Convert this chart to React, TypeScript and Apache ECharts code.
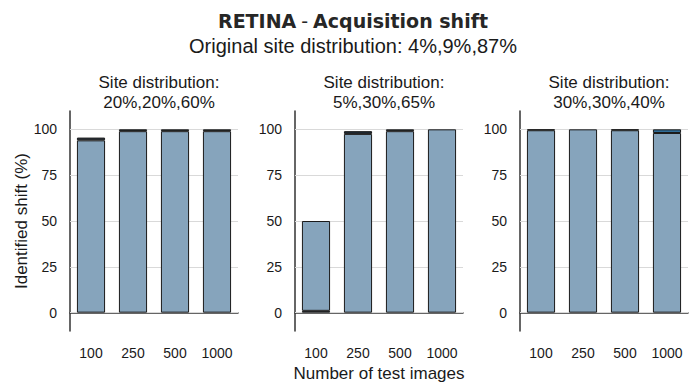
import React, { useEffect, useRef } from "react";
import * as echarts from "echarts";

const mainTitle = "RETINA - Acquisition shift";
const subTitle = "Original site distribution: 4%,9%,87%";
const categories = ["100", "250", "500", "1000"];
const panelTitles = [
  "Site distribution:\n20%,20%,60%",
  "Site distribution:\n5%,30%,65%",
  "Site distribution:\n30%,30%,40%",
];
const yTicks = [0, 25, 50, 75, 100];
// stacked segments per panel (bottom to top)
const lowDark = [
  [0, 0, 0, 0],
  [1, 0, 0, 0],
  [0, 0, 0, 0],
];
const mainShift = [
  [94, 99, 99, 99],
  [49, 97.5, 99, 100],
  [99.5, 100, 99.5, 98],
];
const topDark = [
  [1.5, 1, 1, 1],
  [0, 1.5, 1, 0],
  [0.5, 0, 0.5, 0],
];
const topBlue = [
  [0, 0, 0, 0],
  [0, 0, 0, 0],
  [0, 0, 0, 2],
];

const FONT = "Liberation Sans, Arial, sans-serif";
const gridLefts = [70, 295, 520];
const GRID_W = 168;

export default function App() {
  const ref = useRef<HTMLDivElement>(null);
  useEffect(() => {
    if (!ref.current) return;
    const chart = echarts.init(ref.current, null, { renderer: "svg" });
    const grids: any[] = [];
    const xAxes: any[] = [];
    const yAxes: any[] = [];
    const series: any[] = [];
    const parts = mainTitle.split(" - ");
    const titles: any[] = [
      {
        text: `{b|${parts[0]}} {n|-} {b|${parts[1]}}`,
        left: 348,
        top: 6,
        textAlign: "center",
        textStyle: {
          rich: {
            b: { fontFamily: "DejaVu Sans", fontWeight: "bold", fontSize: 19, color: "#262626" },
            n: { fontFamily: "DejaVu Sans", fontWeight: "normal", fontSize: 19, color: "#262626" },
          },
        },
      },
      {
        text: subTitle,
        left: 348,
        top: 31,
        textAlign: "center",
        textStyle: { fontFamily: FONT, fontWeight: "normal", fontSize: 20, color: "#1a1a1a" },
      },
    ];
    const nz = (arr: number[]) => arr.map((v) => (v === 0 ? "-" : v));
    for (let i = 0; i < 3; i++) {
      grids.push({ left: gridLefts[i], width: GRID_W, top: 111, height: 220 });
      titles.push({
        text: panelTitles[i],
        left: gridLefts[i] + GRID_W / 2,
        top: 67,
        textAlign: "center",
        textStyle: { fontFamily: FONT, fontWeight: "normal", fontSize: 17, lineHeight: 20, color: "#1a1a1a" },
      });
      xAxes.push({
        type: "category",
        gridIndex: i,
        data: categories,
        boundaryGap: true,
        axisLine: { show: true, lineStyle: { color: "#333", width: 1.5 } },
        axisTick: { show: false },
        axisLabel: { fontFamily: FONT, fontSize: 14, color: "#1a1a1a", margin: 15 },
        name: i === 1 ? "Number of test images" : "",
        nameLocation: "middle",
        nameGap: 31,
        nameTextStyle: { fontFamily: FONT, fontSize: 17, color: "#1a1a1a" },
      });
      yAxes.push({
        type: "value",
        gridIndex: i,
        min: -10,
        max: 110,
        axisLine: { show: true, lineStyle: { color: "#333", width: 1.5 } },
        axisTick: { show: false },
        splitLine: { show: false },
        axisLabel: { customValues: yTicks, fontFamily: FONT, fontSize: 14, color: "#1a1a1a", margin: 13 },
        name: i === 0 ? "Identified shift (%)" : "",
        nameLocation: "middle",
        nameGap: 40,
        nameTextStyle: { fontFamily: FONT, fontSize: 17, color: "#1a1a1a" },
      });
      const base = {
        type: "bar",
        xAxisIndex: i,
        yAxisIndex: i,
        stack: "s" + i,
        barWidth: "67%",
        z: 3,
        itemStyle: { borderColor: "#1a1a1a", borderWidth: 1 },
      };
      series.push({
        ...base,
        name: "low" + i,
        data: nz(lowDark[i]),
        itemStyle: { ...base.itemStyle, color: "#1e2b38" },
        markLine: {
          silent: true,
          symbol: "none",
          z: 1,
          label: { show: false },
          lineStyle: { color: "#d9d9d9", type: "solid", width: 1 },
          data: yTicks.map((v) => ({ yAxis: v })),
        },
      });
      series.push({
        ...base,
        name: "main" + i,
        data: nz(mainShift[i]),
        itemStyle: { ...base.itemStyle, color: "#86a4bc" },
      });
      series.push({
        ...base,
        name: "top" + i,
        data: nz(topDark[i]),
        itemStyle: { ...base.itemStyle, color: "#1e2b38" },
      });
      series.push({
        ...base,
        name: "blue" + i,
        data: nz(topBlue[i]),
        itemStyle: { ...base.itemStyle, color: "#2f6c97" },
      });
    }
    chart.setOption({
      animation: false,
      backgroundColor: "#fff",
      title: titles,
      grid: grids,
      xAxis: xAxes,
      yAxis: yAxes,
      series,
    });
    return () => chart.dispose();
  }, []);
  return <div ref={ref} style={{ width: 697, height: 390, position: "absolute", left: 0, top: 0 }} />;
}
